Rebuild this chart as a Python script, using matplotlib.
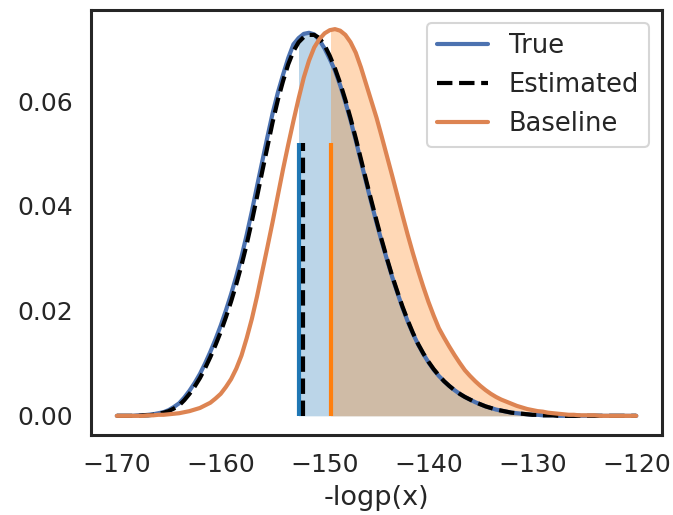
import matplotlib
matplotlib.use("Agg")
import numpy as np
import matplotlib.pyplot as plt
import seaborn as sns
from matplotlib.patches import Rectangle

x_vals = np.arange(-170, -119.9, 0.5)

true_pdf = [0.0, 0.0, 0.0, 0.0, 0.0001, 0.0001, 0.0002, 0.0003, 0.0005, 0.0007,
            0.0011, 0.0017, 0.0024, 0.0035, 0.0048, 0.0063, 0.0080, 0.0100, 0.0122, 0.0146,
            0.0172, 0.0201, 0.0232, 0.0266, 0.0303, 0.0345, 0.0390, 0.0438, 0.0485, 0.0532,
            0.0577, 0.0616, 0.0650, 0.0682, 0.0708, 0.0720, 0.0728, 0.0730, 0.0727, 0.0716,
            0.0700, 0.0680, 0.0658, 0.0630, 0.0598, 0.0563, 0.0525, 0.0485, 0.0445, 0.0406,
            0.0368, 0.0332, 0.0298, 0.0265, 0.0235, 0.0206, 0.0180, 0.0157, 0.0136, 0.0118,
            0.0102, 0.0088, 0.0076, 0.0066, 0.0057, 0.0049, 0.0042, 0.0036, 0.0031, 0.0026,
            0.0022, 0.0018, 0.0015, 0.0012, 0.0010, 0.0008, 0.0006, 0.0005, 0.0004, 0.0003,
            0.0002, 0.0002, 0.0001, 0.0001, 0.0001, 0.0, 0.0, 0.0, 0.0, 0.0,
            0.0, 0.0, 0.0, 0.0, 0.0, 0.0, 0.0, 0.0, 0.0, 0.0,
            0.0]

est_pdf = [0.0, 0.0, 0.0, 0.0, 0.0, 0.0001, 0.0001, 0.0002, 0.0004, 0.0006,
           0.0009, 0.0014, 0.0020, 0.0030, 0.0042, 0.0056, 0.0072, 0.0091, 0.0112, 0.0135,
           0.0160, 0.0188, 0.0218, 0.0251, 0.0287, 0.0327, 0.0371, 0.0418, 0.0466, 0.0513,
           0.0560, 0.0602, 0.0638, 0.0670, 0.0695, 0.0712, 0.0722, 0.0726, 0.0726, 0.0720,
           0.0706, 0.0686, 0.0662, 0.0634, 0.0602, 0.0567, 0.0529, 0.0489, 0.0449, 0.0410,
           0.0372, 0.0335, 0.0300, 0.0267, 0.0237, 0.0208, 0.0182, 0.0158, 0.0137, 0.0119,
           0.0103, 0.0089, 0.0077, 0.0066, 0.0057, 0.0049, 0.0042, 0.0036, 0.0031, 0.0026,
           0.0022, 0.0018, 0.0015, 0.0012, 0.0010, 0.0008, 0.0006, 0.0005, 0.0004, 0.0003,
           0.0002, 0.0002, 0.0001, 0.0001, 0.0001, 0.0, 0.0, 0.0, 0.0, 0.0,
           0.0, 0.0, 0.0, 0.0, 0.0, 0.0, 0.0, 0.0, 0.0, 0.0,
           0.0]

base_pdf = [0.0, 0.0, 0.0, 0.0, 0.0, 0.0, 0.0001, 0.0001, 0.0002, 0.0002,
            0.0003, 0.0004, 0.0005, 0.0007, 0.0009, 0.0012, 0.0015, 0.0020, 0.0025, 0.0033,
            0.0042, 0.0055, 0.0070, 0.0090, 0.0115, 0.0148, 0.0185, 0.0228, 0.0275, 0.0322,
            0.0370, 0.0420, 0.0470, 0.0517, 0.0562, 0.0605, 0.0645, 0.0677, 0.0702, 0.0718,
            0.0729, 0.0735, 0.0737, 0.0734, 0.0726, 0.0712, 0.0692, 0.0664, 0.0632, 0.0600,
            0.0568, 0.0532, 0.0495, 0.0458, 0.0420, 0.0382, 0.0345, 0.0310, 0.0277, 0.0246,
            0.0217, 0.0191, 0.0167, 0.0149, 0.0132, 0.0116, 0.0101, 0.0087, 0.0076, 0.0066,
            0.0057, 0.0049, 0.0042, 0.0036, 0.0031, 0.0027, 0.0023, 0.0019, 0.0016, 0.0013,
            0.0011, 0.0009, 0.0008, 0.0006, 0.0005, 0.0004, 0.0003, 0.0002, 0.0002, 0.0001,
            0.0001, 0.0001, 0.0001, 0.0, 0.0, 0.0, 0.0, 0.0, 0.0, 0.0,
            0.0]

# vertical markers (position of each mean) and their height
true_mark = -152.5
est_mark = -152.1
base_mark = -149.4
mark_height = 0.052

sns.set_theme(style="white", context="talk")

fig = plt.figure(figsize=(6.73, 5.15), dpi=100)
ax = fig.add_axes([0.135, 0.155, 0.849, 0.826])

# shaded tails to the right of the markers
fill_true = ax.fill_between(x_vals, true_pdf, color="tab:blue", alpha=0.3, lw=0)
fill_true.set_clip_path(Rectangle((true_mark, -1), 100, 2, transform=ax.transData))
fill_base = ax.fill_between(x_vals, base_pdf, color="tab:orange", alpha=0.3, lw=0)
fill_base.set_clip_path(Rectangle((base_mark, -1), 100, 2, transform=ax.transData))

ax.plot(x_vals, true_pdf, color="#4c72b0", lw=3, label="True")
ax.plot(x_vals, est_pdf, color="black", lw=3, ls="--", label="Estimated")
ax.plot(x_vals, base_pdf, color="#dd8452", lw=3, label="Baseline")

ax.vlines(true_mark, 0, mark_height, color="tab:blue", lw=3)
ax.vlines(est_mark, 0, mark_height, color="black", lw=3, ls="--")
ax.vlines(base_mark, 0, mark_height, color="tab:orange", lw=3)

ax.set_xlabel("-logp(x)", fontsize=19.5, labelpad=6)
ax.tick_params(labelsize=18)
ax.legend(loc="upper right", fontsize=18.5)

for s in ax.spines.values():
    s.set_linewidth(2.2)

fig.savefig("out.png", dpi=100)
